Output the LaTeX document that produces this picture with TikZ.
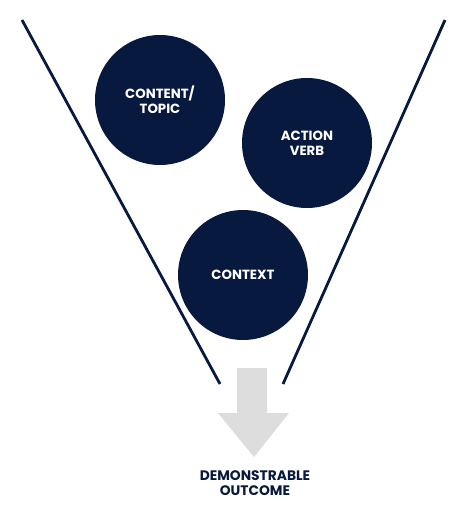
\documentclass[tikz,border=0pt]{standalone}
\usepackage{fontspec}
\setmainfont{Poppins}
\usetikzlibrary{positioning}
\definecolor{navy}{HTML}{08193F}
\definecolor{arrowgray}{HTML}{DDDDDD}
\begin{document}
\begin{tikzpicture}[x=1pt,y=1pt]
                \tikzstyle{every node}+=[inner sep=0pt]
                \tikzstyle{bubble}=[circle, fill=navy, minimum size=130pt, text=white, align=center, font=\bfseries\fontsize{13.3}{15}\selectfont]
                \tikzstyle{funnel}=[navy, line width=2.8pt]
                \useasboundingbox (0,0) rectangle (467,-511);
                \node [bubble] (topic) at (160,-100) {CONTENT/\\TOPIC};
                \node [bubble] (verb) at (307,-143) {ACTION\\VERB};
                \node [bubble] (context) at (243,-275) {CONTEXT};
                \coordinate (lefttop) at (22,-20);
                \coordinate (leftend) at (220,-384);
                \coordinate (righttop) at (445,-20);
                \coordinate (rightend) at (283,-384);
                \draw [funnel] (lefttop) -- (leftend);
                \draw [funnel] (righttop) -- (rightend);
                \fill [arrowgray] (237,-368) -- (267,-368) -- (267,-413) -- (289,-413) -- (254,-457) -- (218,-413) -- (237,-413) -- cycle;
                \node [align=center, text=navy, font=\bfseries\fontsize{13.8}{14.5}\selectfont] (outcome) at (255,-483) {DEMONSTRABLE\\OUTCOME};
\end{tikzpicture}
\end{document}
